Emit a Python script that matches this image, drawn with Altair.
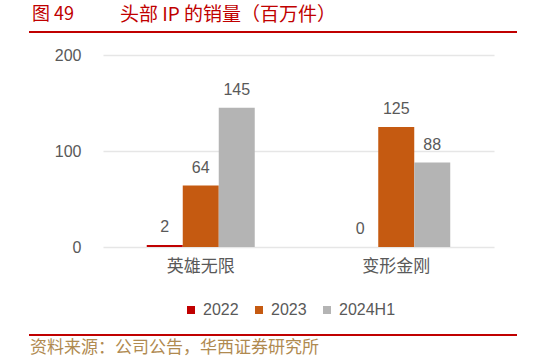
import altair as alt
import pandas as pd

categories = ["英雄无限", "变形金刚"]
series = ["2022", "2023", "2024H1"]
v2022 = [2, 0]
v2023 = [64, 125]
v2024 = [145, 88]
colors = ["#c00000", "#c55a11", "#b4b4b4"]
y_ticks = [0, 100, 200]

rows = []
for i, c in enumerate(categories):
    for s, vals in zip(series, [v2022, v2023, v2024]):
        rows.append({"cat": c, "series": s, "value": vals[i], "label": str(vals[i])})
df = pd.DataFrame(rows)

W, H = 391, 192
FONT = "Noto Sans CJK SC"
NUMFONT = "Liberation Sans"

base = alt.Chart(df)
x = alt.X("cat:N", sort=categories, title=None,
          scale=alt.Scale(paddingInner=0.4476, paddingOuter=0.2238),
          axis=alt.Axis(labelAngle=0, labelFont=FONT, labelFontSize=17, labelColor="#595959",
                        domain=False, ticks=False, labelPadding=11, grid=False))
xo = alt.XOffset("series:N", sort=series, scale=alt.Scale(paddingInner=0, paddingOuter=0))
y = alt.Y("value:Q", title=None, scale=alt.Scale(domain=[0, 200], nice=False),
          axis=alt.Axis(values=y_ticks, labelFont=NUMFONT, labelFontSize=16, labelColor="#595959",
                        domain=False, ticks=False, labelPadding=22, grid=True,
                        gridColor="#e6e6e6", gridWidth=1.5))

bars = base.mark_bar().encode(
    x=x, xOffset=xo, y=y,
    color=alt.Color("series:N", sort=series,
                    scale=alt.Scale(domain=series, range=colors),
                    legend=alt.Legend(title=None, orient="none", direction="horizontal",
                                      legendX=80, legendY=247,
                                      symbolType="square", symbolSize=64, symbolStrokeWidth=0,
                                      labelFont=NUMFONT, labelFontSize=16, labelColor="#595959",
                                      columnPadding=12, labelOffset=4)),
)

labels = base.mark_text(baseline="bottom", dy=-10, font=NUMFONT, fontSize=16, color="#595959").encode(
    x=alt.X("cat:N", sort=categories), xOffset=xo, y="value:Q", text="label:N"
)

deco = pd.DataFrame({"k": [0]})
dbase = alt.Chart(deco)
title1 = dbase.mark_text(align="left", baseline="middle", font=FONT, fontSize=18, color="#c00000").encode(
    x=alt.value(32 - 103), y=alt.value(15 - 55), text=alt.value("图 49"))
title2 = dbase.mark_text(align="left", baseline="middle", font=FONT, fontSize=19, color="#c00000").encode(
    x=alt.value(120 - 103), y=alt.value(15 - 55), text=alt.value("头部 IP 的销量（百万件）"))
line_top = dbase.mark_rule(color="#c00000", strokeWidth=2).encode(
    x=alt.value(29 - 103), x2=alt.value(517 - 103), y=alt.value(32 - 55))
line_bot = dbase.mark_rule(color="#c00000", strokeWidth=2).encode(
    x=alt.value(29 - 103), x2=alt.value(517 - 103), y=alt.value(335 - 55))
source = dbase.mark_text(align="left", baseline="middle", font=FONT, fontSize=17, color="#b08a50").encode(
    x=alt.value(30 - 103), y=alt.value(348 - 55), text=alt.value("资料来源：公司公告，华西证券研究所"))

chart = alt.layer(bars, labels, title1, title2, line_top, line_bot, source).properties(
    width=W, height=H,
    background="white",
    autosize=alt.AutoSizeParams(type="none"),
    padding={"left": 103, "top": 55, "right": 533 - 103 - W, "bottom": 362 - 55 - H},
).configure_view(strokeWidth=0, stroke=None).configure_axisX(grid=False)

chart.save("out.html", embed_options={"renderer": "svg", "actions": False})
